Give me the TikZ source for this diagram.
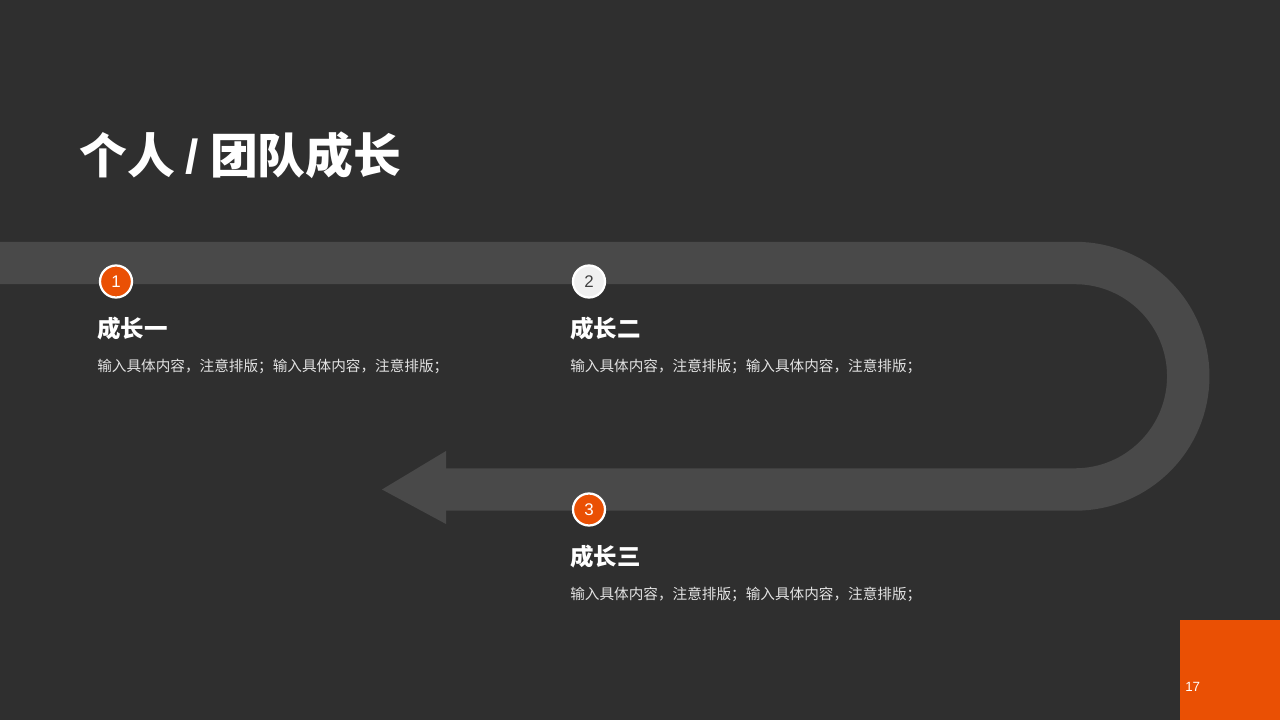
\documentclass[tikz,border=0pt]{standalone}
\usepackage{fontspec}
\setmainfont{Liberation Sans}
\newfontfamily\cjk{Noto Sans CJK SC}
\usetikzlibrary{positioning, shapes.geometric, arrows.meta, calc}
\usepackage{xcolor}
\definecolor{bgdark}{HTML}{2F2F2F}
\definecolor{bandgray}{HTML}{494949}
\definecolor{accent}{HTML}{EA5004}
\definecolor{bodytext}{HTML}{E2E2E2}

\begin{document}
\begin{tikzpicture}[
    x=0.025cm, y=-0.025cm,
    badge/.style={circle, draw=white, line width=1.6pt, minimum size=0.8cm, inner sep=0pt, fill=accent, text=white, font=\fontsize{12}{14}\selectfont},
    heading/.style={anchor=west, inner sep=0pt, text=white, font=\cjk\bfseries\fontsize{16.7}{20}\selectfont},
    bodyline/.style={anchor=west, inner sep=0pt, text=bodytext, font=\cjk\fontsize{10.4}{12}\selectfont}
]
    % background and page corner
    \fill[bgdark] (0,0) rectangle (1280,720);
    \useasboundingbox (0,0) rectangle (1280,720);
    \fill[accent] (1180,620) rectangle (1280,720);
    \node[anchor=west, inner sep=0pt, text=white, font=\fontsize{9.5}{11}\selectfont] (pagenum) at (1185,687) {17};

    % title
    \node[anchor=west, inner sep=0pt, text=white, font=\cjk\bfseries\fontsize{34}{40}\selectfont] (title) at (79,155) {个人 {\rmfamily\bfseries /} 团队成长};

    % the road
    \coordinate (roadstart) at (0,263);
    \coordinate (turn) at (1075,263);
    \coordinate (roadend) at (446,489.5);
    \draw[bandgray, line width=1.06cm] (roadstart) -- (turn) arc (-90:90:113.25) -- (roadend);
    \fill[bandgray] (446,451) -- (382,489.5) -- (446,524) -- cycle;

    % milestones
    \node[badge] (one) at (116,281.5) {1};
    \node[badge, fill=white!94!black, text=black!75] (two) at (589,281.5) {2};
    \node[badge] (three) at (589,509.5) {3};

    \node[heading] (h1) at (97,328.5) {成长一};
    \node[heading] (h2) at (570,328.5) {成长二};
    \node[heading] (h3) at (570,556.5) {成长三};

    \node[bodyline] (b1) at (97,366.5) {输入具体内容，注意排版；输入具体内容，注意排版；};
    \node[bodyline] (b2) at (570,366.5) {输入具体内容，注意排版；输入具体内容，注意排版；};
    \node[bodyline] (b3) at (570,594.5) {输入具体内容，注意排版；输入具体内容，注意排版；};
\end{tikzpicture}
\end{document}
